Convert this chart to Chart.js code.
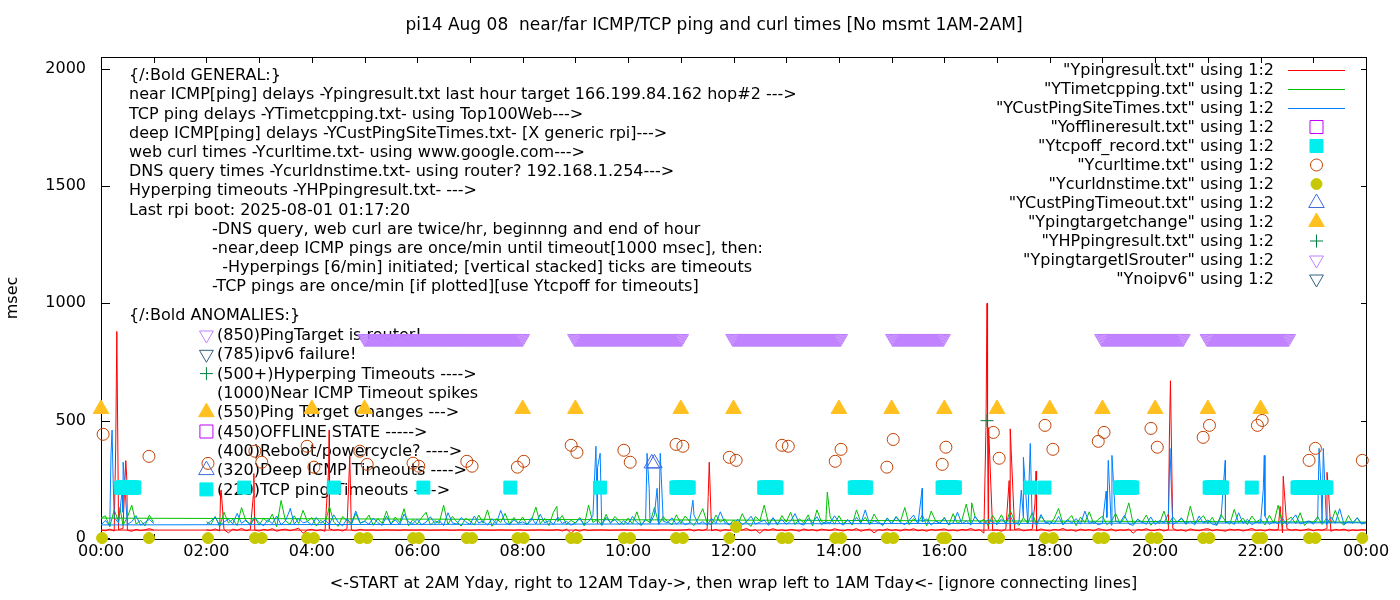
<!DOCTYPE html>
<html>
<head>
<meta charset="utf-8">
<script src="https://cdn.jsdelivr.net/npm/chart.js@4.4.1/dist/chart.umd.min.js"></script>
<style>
  html, body { margin: 0; padding: 0; background: #fff; }
</style>
</head>
<body>
<canvas id="pingChart" width="1400" height="600"></canvas>
<script>
// ---- data (hours on x, msec on y) ----
const _ = null;
const sampleMin = 5;      // line series are given every 5 min, 00:00 .. 24:00
const wrapHour = 1.5;     // run starts 2AM, wraps to 00:00 after midnight

const hourTicks = [0, 2, 4, 6, 8, 10, 12, 14, 16, 18, 20, 22, 24];
const msecTicks = [0, 500, 1000, 1500, 2000];

// Ypingresult.txt (near ICMP)
const nearPing = [
  34,31,38,30,36,41,33,29,37,32,35,40,
  34,_,_,_,_,_,_,_,_,_,_,_,
  35,32,39,30,36,22,38,33,41,31,36,34,
  30,37,33,40,29,35,38,31,36,42,20,34,
  37,31,35,29,39,33,36,30,40,34,31,37,
  34,34,35,33,34,35,34,34,33,35,34,34,
  34,35,34,33,34,34,35,34,33,34,35,34,
  33,34,35,34,34,33,34,35,34,34,33,35,
  34,33,34,34,35,34,33,34,36,30,38,21,
  36,29,37,32,34,34,35,34,33,34,34,35,
  34,33,34,35,34,34,33,34,35,34,34,33,
  34,35,38,30,36,32,39,31,37,29,36,33,
  38,30,35,41,31,36,20,37,33,40,32,35,
  31,37,34,29,39,33,36,30,38,35,32,40,
  34,30,37,33,41,29,35,38,22,36,33,39,
  32,36,30,38,34,40,31,35,29,37,33,36,
  39,31,35,30,37,34,41,32,36,21,38,33,
  35,29,38,32,36,40,31,34,37,30,39,33,
  30,37,34,41,32,35,29,38,33,36,31,40,
  36,32,39,30,35,33,38,21,37,34,40,31,
  33,38,30,36,41,32,35,29,39,34,31,37,
  40,31,36,33,29,38,34,37,30,35,41,32,
  35,30,38,34,36,22,40,33,37,31,35,39,
  31,36,33,40,29,37,34,38,30,35,32,36,
  34];
const nearPingSpikes = [[0.28,400],[0.30,880],[0.47,330],[0.49,250],[2.27,195],[2.28,205],
  [2.89,180],[2.90,275],[4.32,300],[4.33,460],[4.72,350],[11.52,178],[11.54,323],
  [16.79,470],[16.81,1000],[16.82,470],[16.84,470],[17.23,245],[17.25,465],[17.72,150],
  [17.74,285],[20.27,430],[20.29,670],[22.37,135],[22.43,263],[23.26,280],[23.28,230]];

// YTimetcpping.txt (TCP ping)
const tcpPing = [
  85,95,48,120,70,55,88,140,60,75,52,98,
  66,_,_,_,_,_,_,_,_,_,_,_,
  70,58,92,49,110,64,80,53,130,72,61,90,
  55,84,67,102,48,160,73,59,95,62,118,70,
  88,52,76,60,135,68,50,92,74,57,105,63,
  71,98,54,83,62,115,58,90,66,125,52,79,
  60,87,110,55,74,63,140,58,92,69,51,84,
  73,56,98,64,120,50,82,67,105,59,88,62,
  90,57,76,132,61,84,53,110,70,96,58,75,
  64,88,52,140,66,79,55,101,62,92,73,58,
  85,60,112,54,78,66,130,59,91,70,56,99,
  62,94,71,53,86,125,64,57,98,68,81,55,
  77,58,104,66,50,92,73,140,60,85,55,96,
  68,110,57,82,64,99,52,120,70,61,90,59,
  95,62,78,55,120,67,88,58,102,71,54,86,
  60,92,70,130,57,83,65,98,52,115,74,63,
  88,55,104,62,76,145,58,90,67,80,53,97,
  65,99,59,118,72,54,87,63,108,57,92,70,
  58,84,126,61,75,96,53,89,66,112,60,79,
  93,57,71,104,62,86,150,59,80,67,98,55,
  74,62,115,56,90,68,83,58,136,64,77,95,
  61,88,54,100,72,59,122,66,85,57,94,69,
  80,56,97,63,140,58,76,89,61,108,54,72,
  67,91,58,84,62,118,70,55,96,63,87,60,
  68];
const tcpPingSpikes = [[0.36,130],[8.65,135],[13.78,196],[16.52,150]];

// YCustPingSiteTimes.txt (deep ICMP)
const deepPing = [
  56,75,52,88,64,110,58,70,95,55,66,80,
  62,_,_,_,_,_,_,_,_,_,_,_,
  58,72,90,55,68,81,60,105,63,77,54,86,
  66,52,79,61,94,57,73,120,59,84,65,70,
  55,88,63,76,58,99,67,52,82,61,115,64,
  72,59,85,66,54,93,60,78,57,102,69,62,
  80,56,68,91,62,75,53,108,65,59,87,70,
  58,94,64,73,55,82,61,118,67,56,78,63,
  69,57,86,60,101,65,74,58,90,62,71,55,
  64,83,58,70,96,61,54,88,66,79,57,74,
  60,92,67,55,81,63,99,58,72,65,86,59,
  75,57,64,98,60,70,55,84,62,112,66,58,
  63,80,56,71,93,59,68,76,54,87,61,79,
  58,72,104,62,55,83,66,91,57,70,64,95,
  67,55,78,60,88,63,120,58,74,65,56,84,
  61,90,66,57,76,98,60,69,82,55,72,63,
  85,58,64,110,61,73,56,92,67,60,79,70,
  57,81,63,95,58,68,88,62,74,55,100,65,
  70,60,92,56,78,64,83,59,115,62,71,57,
  62,88,55,73,66,97,60,54,80,68,59,90,
  58,75,64,103,57,69,86,61,72,56,94,63,
  77,60,55,89,65,71,58,108,62,80,57,68,
  64,93,58,70,61,84,56,76,99,60,67,73,
  59,82,66,57,90,63,125,58,71,64,86,60,
  65];
const deepPingSpikes = [[0.19,357],[0.21,460],[0.23,250],[0.40,200],[0.42,323],[3.59,127],
  [9.39,391],[9.42,300],[9.47,361],[10.36,361],[10.40,212],[10.55,212],[10.61,361],
  [11.23,161],[15.58,212],[17.46,204],[17.50,344],[17.63,403],[19.07,200],[19.11,331],
  [19.18,352],[20.28,382],[21.33,331],[22.05,204],[22.07,352],[23.11,382],[23.15,200],[23.19,382]];

// Ycurltime.txt
const curlTimes = [[0.04,442],[0.91,348],[2.03,318],[2.92,370],[3.05,323],[3.91,391],[4.04,302],
  [4.91,370],[5.05,314],[5.92,319],[6.03,306],[6.94,327],[7.04,306],[7.90,302],[8.02,327],
  [8.92,395],[9.03,365],[9.92,374],[10.04,323],[10.91,399],[11.04,391],[11.92,344],[12.05,331],
  [12.92,395],[13.04,391],[13.93,327],[14.04,378],[14.91,302],[15.03,420],[15.96,314],[16.03,387],
  [16.93,450],[17.04,340],[17.91,480],[18.06,378],[18.92,412],[19.03,450],[19.92,467],[20.04,387],
  [20.91,429],[21.03,480],[21.94,480],[22.03,501],[22.92,331],[23.04,382],[23.93,331]];

// Ycurldnstime.txt
const dnsTimes = [[0.02,0],[0.91,0],[2.03,0],[2.92,0],[3.05,0],[3.91,0],[4.04,0],[4.91,0],[5.05,0],
  [5.92,0],[6.03,0],[6.94,0],[7.04,0],[7.90,0],[8.02,0],[8.92,0],[9.03,0],[9.92,0],[10.04,0],
  [10.91,0],[11.04,0],[11.92,0],[12.05,47],[12.92,0],[13.04,0],[13.93,0],[14.04,0],[14.91,0],
  [15.03,0],[15.96,0],[16.03,0],[16.93,0],[17.04,0],[17.91,0],[18.06,0],[18.92,0],[19.03,0],
  [19.92,0],[20.04,0],[20.91,0],[21.03,0],[21.94,0],[22.03,0],[22.92,0],[23.04,0],[23.93,0]];

// Ytcpoff_record.txt: runs of one-per-minute records [from, to] hours
const tcpOffRuns = [[0.39,0.64],[2.72,2.72],[4.41,4.41],[6.11,6.11],[7.76,7.76],[9.46,9.46],
  [10.92,11.15],[12.59,12.82],[14.30,14.51],[15.97,16.20],[17.63,17.63],[17.90,17.90],
  [19.33,19.57],[21.03,21.26],[21.83,21.83],[22.70,23.25]];
const tcpOffValue = 215;

// YpingtargetISrouter: runs of one-per-minute records
const routerRuns = [[5.0,8.0],[8.98,11.02],[11.99,14.04],[15.01,15.98],[18.99,20.53],[20.99,22.54]];
const routerValue = 850;

const custTimeouts = [[10.45,318],[10.50,318]];
const targetChanges = [[0,550],[4,550],[5,550],[8,550],[9,550],[11,550],[12,550],[14,550],
  [15,550],[16,550],[17,550],[18,550],[19,550],[20,550],[21,550],[22,550]];
const hpTimeouts = [[16.81,500]];
const offlineRecs = [];
const noIpv6Recs = [];

const titleText = 'pi14 Aug 08  near/far ICMP/TCP ping and curl times [No msmt 1AM-2AM]';
const xTitle = '<-START at 2AM Yday, right to 12AM Tday->, then wrap left to 1AM Tday<- [ignore connecting lines]';

const generalNotes = [
  '{/:Bold GENERAL:}',
  'near ICMP[ping] delays -Ypingresult.txt last hour target 166.199.84.162 hop#2 --->',
  'TCP ping delays -YTimetcpping.txt- using Top100Web--->',
  'deep ICMP[ping] delays -YCustPingSiteTimes.txt- [X generic rpi]--->',
  'web curl times -Ycurltime.txt- using www.google.com--->',
  'DNS query times -Ycurldnstime.txt- using router? 192.168.1.254--->',
  'Hyperping timeouts -YHPpingresult.txt- --->',
  'Last rpi boot: 2025-08-01 01:17:20'
];
const detailNotes = [
  '-DNS query, web curl are twice/hr, beginnng and end of hour',
  '-near,deep ICMP pings are once/min until timeout[1000 msec], then:',
  '  -Hyperpings [6/min] initiated; [vertical stacked] ticks are timeouts',
  '-TCP pings are once/min [if plotted][use Ytcpoff for timeouts]'
];
const anomalyHeader = '{/:Bold ANOMALIES:}';
const anomalyNotes = [
  ['(850)PingTarget is router!', 10],
  ['(785)ipv6 failure!', 11],
  ['(500+)Hyperping Timeouts ---->', 9],
  ['(1000)Near ICMP Timeout spikes', -1],
  ['(550)Ping Target Changes --->', 8],
  ['(450)OFFLINE STATE ----->', 3],
  ['(400)Reboot/powercycle? ---->', -1],
  ['(320)Deep ICMP Timeouts ---->', 7],
  ['(220)TCP ping Timeouts ---->', 4]
];

// ---- helpers ----
function wrapOrder(values, spikes) {
  const pts = [];
  values.forEach((v, i) => { if (v !== null) pts.push({x: i * sampleMin / 60, y: v}); });
  spikes.forEach(([h, v]) => pts.push({x: h, y: v}));
  const key = p => (p.x < wrapHour ? p.x + 24.5 : p.x);
  return pts.sort((a, b) => key(a) - key(b));
}
function expandRuns(runs, value) {
  const pts = [];
  runs.forEach(([a, b]) => {
    for (let m = Math.round(a * 60); m <= Math.round(b * 60); m++) pts.push({x: m / 60, y: value});
  });
  return pts;
}
const toXY = arr => arr.map(([x, y]) => ({x, y}));

const FONT = '16px "DejaVu Sans"';
Chart.defaults.font.family = 'DejaVu Sans';
Chart.defaults.font.size = 16;
Chart.defaults.color = '#000';

function lineSet(label, color, data) {
  return {label, data, showLine: true, borderColor: color, borderWidth: 1,
          pointRadius: 0, fill: false, tension: 0, _kind: 'line'};
}
function markSet(label, color, data, style, radius, filled, rotation) {
  return {label, data, showLine: false, pointStyle: style, pointRadius: radius,
          pointRotation: rotation || 0, pointBorderColor: color, pointBorderWidth: 1,
          pointBackgroundColor: filled ? color : 'rgba(0,0,0,0)', clip: false,
          _kind: 'mark', _filled: filled};
}

const datasets = [
  lineSet('"Ypingresult.txt" using 1:2', '#ff0000', wrapOrder(nearPing, nearPingSpikes)),
  lineSet('"YTimetcpping.txt" using 1:2', '#00c000', wrapOrder(tcpPing, tcpPingSpikes)),
  lineSet('"YCustPingSiteTimes.txt" using 1:2', '#0080ff', wrapOrder(deepPing, deepPingSpikes)),
  markSet('"Yofflineresult.txt" using 1:2', '#c000ff', toXY(offlineRecs), 'rect', 9.2, false),
  markSet('"Ytcpoff_record.txt" using 1:2', '#00eeee', expandRuns(tcpOffRuns, tcpOffValue), 'rect', 9.2, true),
  markSet('"Ycurltime.txt" using 1:2', '#c04000', toXY(curlTimes), 'circle', 6, false),
  markSet('"Ycurldnstime.txt" using 1:2', '#c8c800', toXY(dnsTimes), 'circle', 5.5, true),
  markSet('"YCustPingTimeout.txt" using 1:2', '#4169e1', toXY(custTimeouts), 'triangle', 9, false),
  markSet('"Ypingtargetchange" using 1:2', '#ffc020', toXY(targetChanges), 'triangle', 9, true),
  markSet('"YHPpingresult.txt" using 1:2', '#008040', toXY(hpTimeouts), 'cross', 6.5, false),
  markSet('"YpingtargetISrouter" using 1:2', '#c080ff', expandRuns(routerRuns, routerValue), 'triangle', 8, false, 180),
  markSet('"Ynoipv6" using 1:2', '#306080', toXY(noIpv6Recs), 'triangle', 8, false, 180)
];
// gnuplot draws later plots on top
datasets.forEach((d, i) => { d.order = datasets.length - i; });

function drawMark(ctx, ds, x, y) {
  const r = ds.pointRadius, rot = (ds.pointRotation || 0) * Math.PI / 180;
  ctx.save();
  ctx.lineWidth = 1;
  ctx.strokeStyle = ds.pointBorderColor;
  ctx.fillStyle = ds.pointBackgroundColor;
  ctx.beginPath();
  if (ds.pointStyle === 'rect') {
    const s = r * Math.SQRT1_2;
    ctx.rect(x - s, y - s, 2 * s, 2 * s);
  } else if (ds.pointStyle === 'circle') {
    ctx.arc(x, y, r, 0, Math.PI * 2);
  } else if (ds.pointStyle === 'triangle') {
    let a = rot;
    ctx.moveTo(x + Math.sin(a) * r, y - Math.cos(a) * r);
    a += Math.PI * 2 / 3;
    ctx.lineTo(x + Math.sin(a) * r, y - Math.cos(a) * r);
    a += Math.PI * 2 / 3;
    ctx.lineTo(x + Math.sin(a) * r, y - Math.cos(a) * r);
    ctx.closePath();
  } else if (ds.pointStyle === 'cross') {
    ctx.moveTo(x - r, y); ctx.lineTo(x + r, y);
    ctx.moveTo(x, y - r); ctx.lineTo(x, y + r);
  }
  if (ds._filled) ctx.fill();
  ctx.stroke();
  ctx.restore();
}

const gnuplotFrame = {
  id: 'gnuplotFrame',
  beforeDatasetsDraw(chart) {
    const {ctx, chartArea: a, scales: {x, y}} = chart;
    ctx.save();
    ctx.strokeStyle = '#000';
    ctx.lineWidth = 1;
    ctx.strokeRect(a.left + 0.5, a.top + 0.5, a.right - a.left, a.bottom - a.top);
    ctx.beginPath();
    msecTicks.forEach(v => {
      const py = Math.round(y.getPixelForValue(v)) + 0.5;
      ctx.moveTo(a.left, py); ctx.lineTo(a.left + 9, py);
      ctx.moveTo(a.right + 1, py); ctx.lineTo(a.right - 5, py);
    });
    for (let h = 1; h < 24; h++) {
      const px = Math.round(x.getPixelForValue(h)) + 0.5;
      ctx.moveTo(px, a.top); ctx.lineTo(px, a.top + 6);
      ctx.moveTo(px, a.bottom + 1); ctx.lineTo(px, a.bottom - 5);
    }
    ctx.stroke();

    // notes block
    ctx.fillStyle = '#000';
    ctx.font = FONT;
    ctx.textAlign = 'left';
    ctx.textBaseline = 'middle';
    const step = 19.2;
    generalNotes.forEach((t, i) => ctx.fillText(t, 129, 76 + i * step));
    detailNotes.forEach((t, i) => ctx.fillText(t, 212, 76 + (generalNotes.length + i) * step));
    ctx.fillText(anomalyHeader, 129, 316);
    anomalyNotes.forEach(([t, k], j) => {
      const ty = 335 + j * 19.3;
      ctx.fillText(t, 217, ty + 1);
      if (k >= 0) drawMark(ctx, datasets[k], x.getPixelForValue(2), ty);
    });
    ctx.restore();
  },
  afterDraw(chart) {
    const {ctx} = chart;
    ctx.save();
    ctx.fillStyle = '#000';
    ctx.textBaseline = 'middle';
    ctx.textAlign = 'center';
    ctx.font = '17px "DejaVu Sans"';
    ctx.fillText(titleText, 714, 26);
    // key, gnuplot style: right aligned text, sample on the right
    ctx.font = FONT;
    ctx.textAlign = 'right';
    datasets.forEach((ds, i) => {
      const ry = 70 + i * 19;
      ctx.fillStyle = '#000';
      ctx.fillText(ds.label, 1274, ry + 1);
      if (ds._kind === 'line') {
        ctx.strokeStyle = ds.borderColor;
        ctx.lineWidth = 1;
        ctx.beginPath();
        ctx.moveTo(1288, Math.round(ry) + 0.5);
        ctx.lineTo(1345, Math.round(ry) + 0.5);
        ctx.stroke();
      } else {
        drawMark(ctx, ds, 1316.5, ry);
      }
    });
    ctx.restore();
  }
};

new Chart(document.getElementById('pingChart').getContext('2d'), {
  type: 'scatter',
  data: {datasets},
  options: {
    responsive: false,
    animation: false,
    devicePixelRatio: 1,
    events: [],
    layout: {padding: {top: 57, right: 34, left: 0, bottom: 0}},
    plugins: {legend: {display: false}, tooltip: {enabled: false}, title: {display: false}},
    scales: {
      x: {
        type: 'linear', min: 0, max: 24,
        afterBuildTicks: s => { s.ticks = hourTicks.map(v => ({value: v})); },
        afterFit: s => { s.height = 61; },
        ticks: {
          maxRotation: 0, autoSkip: false, padding: 3,
          callback: v => String(v % 24).padStart(2, '0') + ':00'
        },
        grid: {display: false, drawTicks: false},
        border: {display: false},
        title: {display: true, text: xTitle, padding: {top: 0, bottom: 7}}
      },
      y: {
        min: -4, max: 2049,
        afterBuildTicks: s => { s.ticks = msecTicks.map(v => ({value: v})); },
        afterFit: s => { s.width = 101; },
        ticks: {padding: 15, callback: v => String(v)},
        grid: {display: false, drawTicks: false},
        border: {display: false},
        title: {display: true, text: 'msec', padding: {top: 3, bottom: 0}}
      }
    }
  },
  plugins: [gnuplotFrame]
});
</script>
</body>
</html>
